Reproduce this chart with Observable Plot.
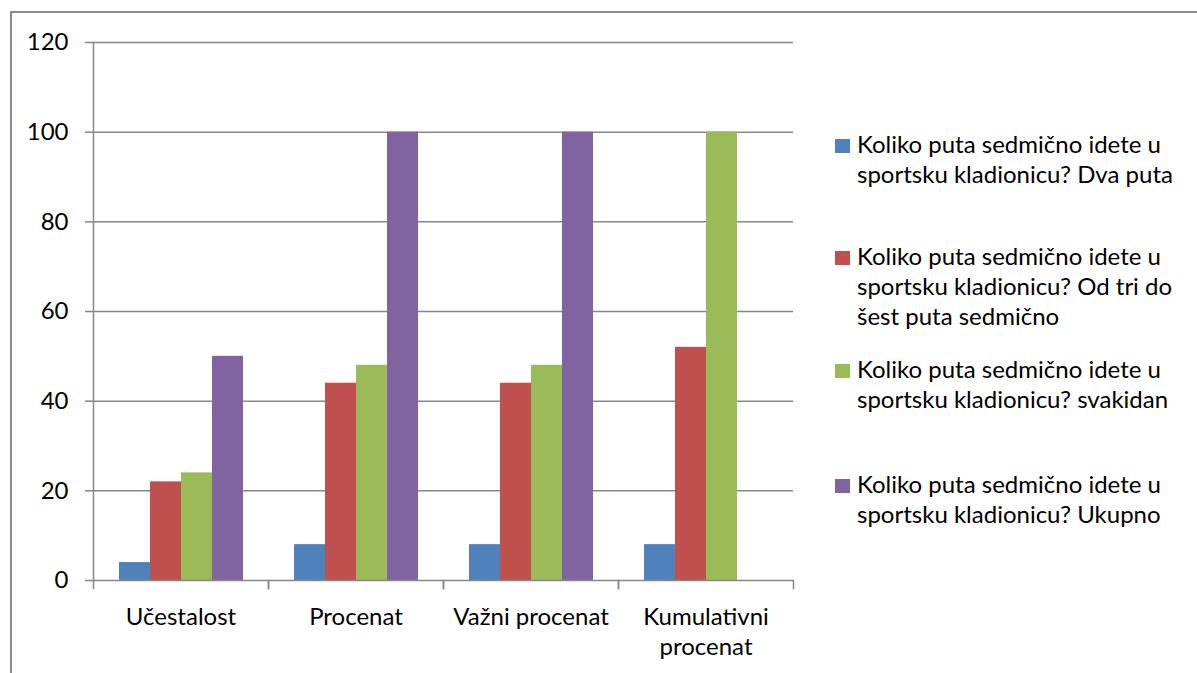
<!DOCTYPE html>
<html>
<head>
<meta charset="utf-8">
<script src="https://cdn.jsdelivr.net/npm/d3@7"></script>
<script src="https://cdn.jsdelivr.net/npm/@observablehq/plot@0.6"></script>
<style>
  html, body { margin: 0; padding: 0; background: #fff; }
  #wrap { position: relative; width: 1197px; height: 673px; overflow: hidden; font-family: Lato, "Open Sans", sans-serif; }
  #border { position: absolute; left: 10px; top: 11px; right: -10px; bottom: -10px; border-left: 2px solid #8a8a8a; border-top: 2px solid #8a8a8a; box-sizing: border-box; }
  #chart { position: absolute; left: 0; top: 0; }
  .entry { position: absolute; left: 835px; font-size: 24px; line-height: 30px; color: #000; white-space: nowrap; }
  .entry .sw { position: absolute; left: 0; width: 15px; height: 14px; }
  .entry .txt { position: absolute; left: 22px; top: 0; }
</style>
</head>
<body>
<div id="wrap">
  <div id="border"></div>
  <div id="chart"></div>
</div>
<script>
const categories = ["Učestalost", "Procenat", "Važni procenat", "Kumulativni procenat"];
const categoryLabels = ["Učestalost", "Procenat", "Važni procenat", "Kumulativni\nprocenat"];
const legendLines = [
  ["Koliko puta sedmično idete u", "sportsku kladionicu? Dva puta"],
  ["Koliko puta sedmično idete u", "sportsku kladionicu? Od tri do", "šest puta sedmično"],
  ["Koliko puta sedmično idete u", "sportsku kladionicu? svakidan"],
  ["Koliko puta sedmično idete u", "sportsku kladionicu? Ukupno"]
];
const series = legendLines.map(l => l.join(" "));
const dvaPuta     = [4, 8, 8, 8];
const odTriDoSest = [22, 44, 44, 52];
const svakidan    = [24, 48, 48, 100];
const ukupno      = [50, 100, 100, null];
const yTicks = [0, 20, 40, 60, 80, 100, 120];
const colors = ["#4F81BD", "#C0504D", "#9BBB59", "#8064A2"];
const legendBaselines = [153, 265, 378, 493];

const seriesValues = [dvaPuta, odTriDoSest, svakidan, ukupno];
const data = [];
categories.forEach((c, ci) => {
  series.forEach((s, si) => {
    const v = seriesValues[si][ci];
    if (v != null) data.push({category: c, series: s, value: v});
  });
});

const gray = "#878787";
const W = 1197, H = 673;
const mTop = 42, mBottom = H - 580, mLeft = 92, mRight = W - 793;

const chart = Plot.plot({
  width: W,
  height: H,
  marginTop: mTop,
  marginBottom: mBottom,
  marginLeft: mLeft,
  marginRight: mRight,
  style: {fontFamily: "Lato, 'Open Sans', sans-serif", fontSize: "24px", color: "#000", background: "transparent", overflow: "visible"},
  fx: {domain: categories, padding: 0, axis: null},
  x: {domain: series, paddingInner: 0, paddingOuter: 0.75, axis: null},
  y: {domain: [0, 120], axis: null},
  color: {domain: series, range: colors},
  marks: [
    Plot.ruleY(yTicks.slice(1), {stroke: gray, strokeWidth: 1.5}),
    Plot.barY(data, {fx: "category", x: "series", y: "value", fill: "series"}),
    Plot.ruleY([0], {stroke: gray, strokeWidth: 1.5}),
    Plot.frame({anchor: "left", facetAnchor: "left", stroke: gray, strokeWidth: 1.5}),
    Plot.frame({anchor: "left", insetTop: H - mTop - mBottom, insetBottom: -8, stroke: gray, strokeWidth: 1.5}),
    Plot.frame({anchor: "right", insetTop: H - mTop - mBottom, insetBottom: -8, stroke: gray, strokeWidth: 1.5}),
    Plot.axisY({ticks: yTicks, tickSize: 8, tickPadding: 17, stroke: gray, strokeWidth: 1.5, fill: "#000", label: null}),
    Plot.axisFx({anchor: "bottom", tickSize: 0, tickPadding: 23, tickFormat: d => categoryLabels[categories.indexOf(d)], lineHeight: 1.25, fill: "#000", label: null})
  ]
});
document.getElementById("chart").appendChild(chart);

const wrap = document.getElementById("wrap");
legendLines.forEach((lines, i) => {
  const e = document.createElement("div");
  e.className = "entry";
  e.style.top = (legendBaselines[i] - 24.3) + "px";
  const sw = document.createElement("div");
  sw.className = "sw";
  sw.style.background = colors[i];
  sw.style.top = (24.3 - 14) + "px";
  e.appendChild(sw);
  const t = document.createElement("div");
  t.className = "txt";
  t.innerHTML = lines.map(l => l.replace(/&/g, "&amp;")).join("<br>");
  e.appendChild(t);
  wrap.appendChild(e);
});
</script>
</body>
</html>
